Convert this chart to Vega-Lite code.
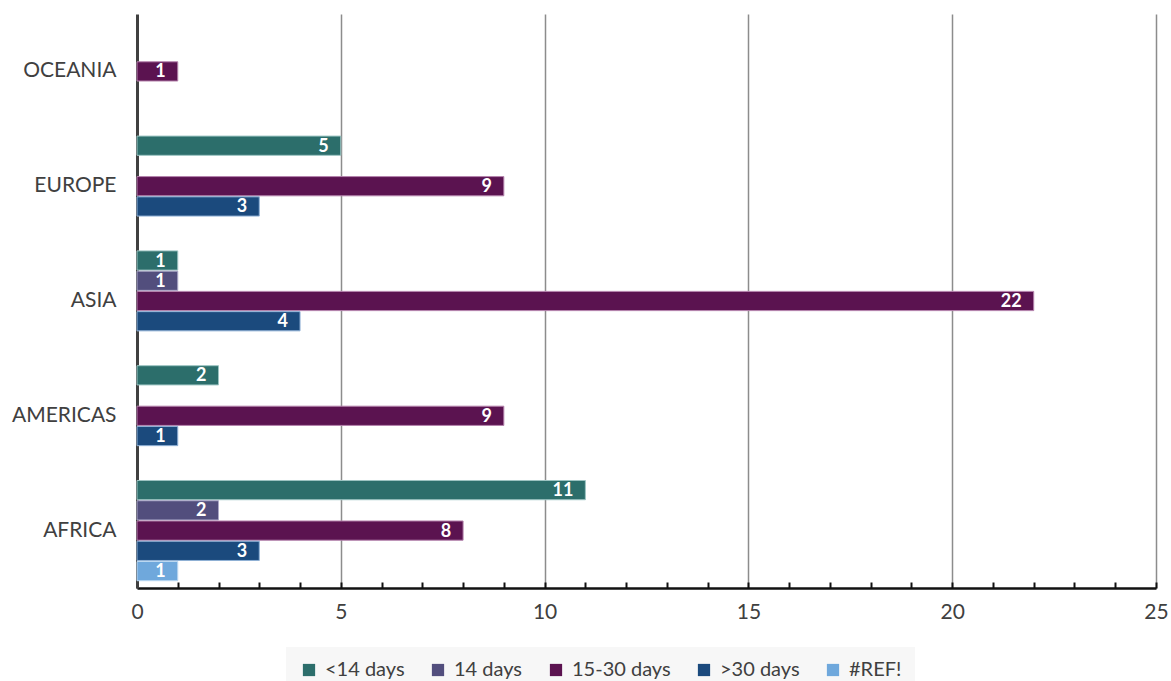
{
  "$schema": "https://vega.github.io/schema/vega-lite/v6.json",
  "autosize": {"type": "none"},
  "width": 1019,
  "height": 574,
  "padding": {"left": 137, "top": 14, "right": 15, "bottom": 93},
  "background": "white",
  "data": {
    "values": [
      {"region": "OCEANIA", "period": "15-30 days", "count": 1},
      {"region": "EUROPE", "period": "<14 days", "count": 5},
      {"region": "EUROPE", "period": "15-30 days", "count": 9},
      {"region": "EUROPE", "period": ">30 days", "count": 3},
      {"region": "ASIA ", "period": "<14 days", "count": 1},
      {"region": "ASIA ", "period": "14 days", "count": 1},
      {"region": "ASIA ", "period": "15-30 days", "count": 22},
      {"region": "ASIA ", "period": ">30 days", "count": 4},
      {"region": "AMERICAS", "period": "<14 days", "count": 2},
      {"region": "AMERICAS", "period": "15-30 days", "count": 9},
      {"region": "AMERICAS", "period": ">30 days", "count": 1},
      {"region": "AFRICA", "period": "<14 days", "count": 11},
      {"region": "AFRICA", "period": "14 days", "count": 2},
      {"region": "AFRICA", "period": "15-30 days", "count": 8},
      {"region": "AFRICA", "period": ">30 days", "count": 3},
      {"region": "AFRICA", "period": "#REF!", "count": 1}
    ]
  },
  "encoding": {
    "y": {
      "field": "region",
      "type": "nominal",
      "sort": ["OCEANIA", "EUROPE", "ASIA ", "AMERICAS", "AFRICA"],
      "scale": {"paddingInner": 0, "paddingOuter": 0},
      "axis": {
        "title": null,
        "ticks": false,
        "domainColor": "#404040",
        "domainWidth": 3,
        "labelFont": "Lato",
        "labelFontSize": 21,
        "labelColor": "#404040",
        "labelPadding": 21,
        "labelExpr": "replace(datum.label, ' ', '\u00a0')"
      }
    },
    "yOffset": {
      "field": "period",
      "type": "nominal",
      "sort": ["<14 days", "14 days", "15-30 days", ">30 days", "#REF!"],
      "scale": {"paddingInner": 0.05, "paddingOuter": 0.36}
    },
    "x": {
      "field": "count",
      "type": "quantitative",
      "scale": {"domain": [0, 25], "nice": false},
      "axis": {
        "title": null,
        "values": [0,1,2,3,4,5,6,7,8,9,10,11,12,13,14,15,16,17,18,19,20,21,22,23,24,25],
        "labelExpr": "datum.value % 5 === 0 ? datum.label : ''",
        "labelFlush": false,
        "labelOverlap": false,
        "labelFont": "Lato",
        "labelFontSize": 21,
        "labelColor": "#404040",
        "labelPadding": 19,
        "domainColor": "#111111",
        "domainWidth": 2.5,
        "ticks": true,
        "tickSize": -6,
        "tickColor": "#111111",
        "tickWidth": 2,
        "grid": true,
        "gridColor": "#8c8c8c",
        "gridWidth": 1.5,
        "gridOpacity": {"condition": {"test": "datum.value % 5 === 0 && datum.value > 0", "value": 1}, "value": 0}
      }
    }
  },
  "layer": [
    {
      "mark": {"type": "bar", "strokeWidth": 1},
      "encoding": {
        "color": {
          "field": "period",
          "type": "nominal",
          "sort": ["<14 days", "14 days", "15-30 days", ">30 days", "#REF!"],
          "scale": {
            "domain": ["<14 days", "14 days", "15-30 days", ">30 days", "#REF!"],
            "range": ["#2C6E6B", "#524E7D", "#5B1350", "#1B4A7D", "#6FA8DC"]
          },
          "legend": {
            "title": null,
            "orient": "none",
            "legendX": 149,
            "legendY": 633,
            "direction": "horizontal",
            "fillColor": "#f7f7f7",
            "padding": 13,
            "symbolType": "square",
            "symbolSize": 150,
            "symbolStrokeWidth": 0,
            "labelFont": "Lato",
            "labelFontSize": 20,
            "labelColor": "#404040",
            "labelOffset": 6,
            "columnPadding": 23
          }
        },
        "stroke": {
          "field": "period",
          "type": "nominal",
          "scale": {
            "domain": ["<14 days", "14 days", "15-30 days", ">30 days", "#REF!"],
            "range": ["#9cc4c2", "#aba8c8", "#b583ad", "#90b1d6", "#bcd8f1"]
          },
          "legend": null
        }
      }
    },
    {
      "mark": {
        "type": "text",
        "align": "right",
        "baseline": "middle",
        "dx": -12,
        "dy": 1,
        "color": "white",
        "font": "Lato",
        "fontSize": 18,
        "fontWeight": "bold"
      },
      "encoding": {
        "text": {"field": "count", "type": "quantitative"}
      }
    }
  ],
  "config": {
    "view": {"stroke": null}
  }
}
